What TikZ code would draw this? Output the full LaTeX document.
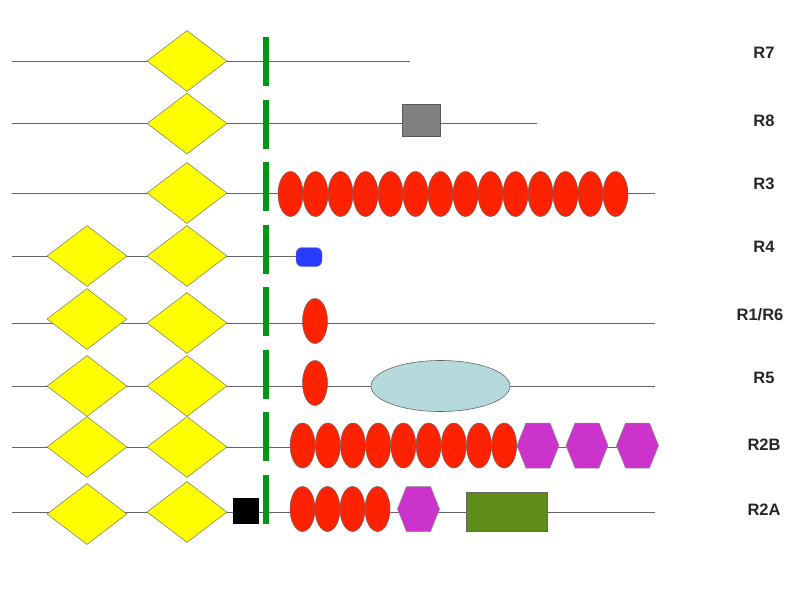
\documentclass[tikz,border=0pt]{standalone}
\usepackage{fontspec}
\setmainfont{Liberation Sans}
\usetikzlibrary{shapes.geometric,shapes.misc}
\definecolor{dyellow}{RGB}{255,255,0}
\definecolor{dred}{RGB}{255,34,0}
\definecolor{dgreen}{RGB}{0,150,20}
\definecolor{dblue}{RGB}{40,60,255}
\definecolor{dcyan}{RGB}{180,218,222}
\definecolor{dmag}{RGB}{204,51,204}
\definecolor{dolive}{RGB}{96,140,24}
\definecolor{dgray}{RGB}{128,128,128}
\definecolor{dline}{RGB}{100,100,100}
\tikzset{
  backbone/.style={draw=dline,line width=0.9pt},
  dmd/.style={diamond,draw=black!55,line width=0.5pt,fill=dyellow,minimum width=80,minimum height=61,inner sep=0pt},
  bead/.style={ellipse,draw=black!60,line width=0.5pt,fill=dred,minimum width=25,minimum height=45,inner sep=0pt},
  barnode/.style={rectangle,fill=dgreen,minimum width=6.5,minimum height=49,inner sep=0pt},
  lab/.style={font=\fontsize{16.5}{18}\selectfont\bfseries,text=black!85,inner sep=0pt},
  hexstyle/.style={draw=black!45,line width=0.5pt,fill=dmag},
  hexagon/.pic={\path[hexstyle] (-21,0) -- (-12,-22.5) -- (12,-22.5) -- (21,0) -- (12,22.5) -- (-12,22.5) -- cycle;},
}
\begin{document}
\begin{tikzpicture}[x=1pt,y=-1pt]
\useasboundingbox[fill=white] (0,0) rectangle (794,598);
% backbones
\coordinate (s7) at (12,61);   \coordinate (e7) at (410,61);
\coordinate (s8) at (12,123.5);\coordinate (e8) at (537,123.5);
\coordinate (s3) at (12,193);  \coordinate (e3) at (655,193);
\coordinate (s4) at (12,256);  \coordinate (e4) at (305,256);
\coordinate (s16) at (12,323); \coordinate (e16) at (655,323);
\coordinate (s5) at (12,386);  \coordinate (e5) at (655,386);
\coordinate (s2b) at (12,447); \coordinate (e2b) at (655,447);
\coordinate (s2a) at (12,512); \coordinate (e2a) at (655,512);
\foreach \r in {7,8,3,4,16,5,2b,2a}{\draw[backbone] (s\r) -- (e\r);}
% green bars
\foreach \k in {0,...,7}{\node[barnode] (bar\k) at (266,{61.5+62.5*\k}) {};}
% diamonds
\node[dmd] (d7) at (187,61) {};
\node[dmd] (d8) at (187,123.5) {};
\node[dmd] (d3) at (187,193) {};
\node[dmd] (d4a) at (87,256) {};   \node[dmd] (d4b) at (187,256) {};
\node[dmd] (d16a) at (87,319) {};  \node[dmd] (d16b) at (187,323) {};
\node[dmd] (d5a) at (87,386) {};   \node[dmd] (d5b) at (187,386) {};
\node[dmd] (d2ba) at (87,447) {};  \node[dmd] (d2bb) at (187,447) {};
\node[dmd] (d2aa) at (87,514) {};  \node[dmd] (d2ab) at (187,512) {};
% R8 grey box
\node[rectangle,draw=black!65,line width=0.6pt,fill=dgray,minimum width=38,minimum height=32,inner sep=0pt] (g8) at (421,120) {};
% R3 beads
\foreach \k in {0,...,13}{\node[bead] (b3\k) at ({290.5+25*\k},194) {};}
% R4 blue
\node[rectangle,rounded corners=6pt,draw=black!50,line width=0.4pt,fill=dblue,minimum width=26,minimum height=19,inner sep=0pt] (blue4) at (309,257) {};
% R1/R6
\node[bead] (b16) at (315,321) {};
% R5
\node[bead] (b5) at (315,383) {};
\node[ellipse,draw=black!60,line width=0.6pt,fill=dcyan,minimum width=139,minimum height=51,inner sep=0pt] (cy5) at (440.5,386) {};
% R2B
\foreach \k in {0,...,8}{\node[bead] (b2b\k) at ({302.6+25.2*\k},445.5) {};}
\pic at (538,445.5) {hexagon};
\pic at (587,445.5) {hexagon};
\pic at (637.5,445.5) {hexagon};
% R2A
\node[rectangle,fill=black,minimum width=26,minimum height=26,inner sep=0pt] (blk) at (246,511) {};
\foreach \k in {0,...,3}{\node[bead] (b2a\k) at ({302.5+25*\k},509) {};}
\pic at (418.5,509) {hexagon};
\node[rectangle,draw=black!60,line width=0.6pt,fill=dolive,minimum width=81,minimum height=39,inner sep=0pt] (ol) at (506.5,511.5) {};
% labels
\node[lab] (l7) at (764,53) {R7};
\node[lab] (l8) at (764,121) {R8};
\node[lab] (l3) at (764,184) {R3};
\node[lab] (l4) at (764,247) {R4};
\node[lab] (l16) at (760,315) {R1/R6};
\node[lab] (l5) at (764,378) {R5};
\node[lab] (l2b) at (764,445) {R2B};
\node[lab] (l2a) at (764,510) {R2A};
\end{tikzpicture}
\end{document}
